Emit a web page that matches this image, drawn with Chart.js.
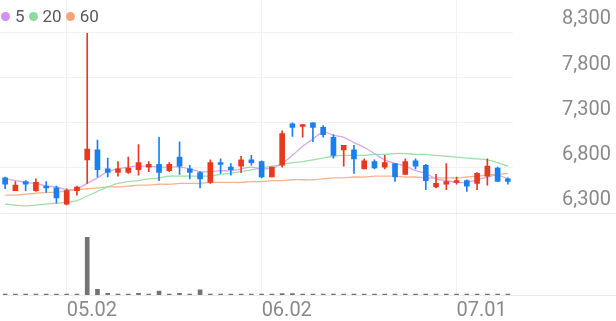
<!DOCTYPE html>
<html>
<head>
<meta charset="utf-8">
<script src="https://cdn.jsdelivr.net/npm/chart.js@4.4.1/dist/chart.umd.min.js"></script>
<style>
  html, body { margin: 0; padding: 0; background: #fff; }
  #wrap { position: relative; width: 616px; height: 321px; }
  #legend {
    position: absolute; left: 1px; top: 6px;
    display: flex; align-items: center;
    font: 17px Roboto, sans-serif; color: #5a5a5a;
  }
  #legend .item { display: flex; align-items: center; margin-right: 4px; }
  #legend .dot { width: 9px; height: 9px; border-radius: 50%; margin-right: 5px; }
</style>
</head>
<body>
<div id="wrap">
  <canvas id="chart" width="616" height="321"></canvas>
  <div id="legend"></div>
</div>
<script>
// daily candles, left to right
const openP  = [6690, 6550, 6650, 6550, 6600, 6580, 6400, 6550, 6890, 7000,
                6790, 6750, 6750, 6780, 6810, 6840, 6770, 6920, 6790, 6750,
                6640, 6860, 6810, 6820, 6890, 6870, 6700, 6830, 7290, 7260,
                7300, 7250, 7140, 7000, 7000, 6790, 6870, 6810, 6850, 6730,
                6880, 6830, 6590, 6620, 6640, 6660, 6630, 6710, 6800, 6680];
const highP  = [6700, 6650, 6660, 6680, 6650, 6600, 6570, 6600, 8290, 7110,
                6910, 6870, 6920, 7060, 6870, 7140, 6860, 7090, 6830, 6760,
                6890, 6900, 6850, 6930, 6940, 6880, 6810, 7210, 7300, 7280,
                7300, 7270, 7170, 7050, 7050, 6900, 6890, 6940, 6850, 6900,
                6900, 6840, 6730, 6850, 6700, 6670, 6750, 6900, 6810, 6690];
const lowP   = [6570, 6550, 6550, 6540, 6530, 6410, 6390, 6500, 6630, 6700,
                6700, 6710, 6740, 6720, 6760, 6660, 6760, 6730, 6680, 6580,
                6630, 6740, 6720, 6750, 6830, 6690, 6700, 6810, 7150, 7140,
                7090, 7140, 6910, 6820, 6740, 6790, 6790, 6790, 6650, 6730,
                6790, 6560, 6580, 6560, 6620, 6540, 6560, 6610, 6650, 6620];
const closeP = [6620, 6610, 6620, 6640, 6580, 6470, 6550, 6590, 7010, 6780,
                6750, 6790, 6800, 6860, 6840, 6750, 6840, 6820, 6750, 6680,
                6860, 6840, 6780, 6890, 6860, 6700, 6810, 7180, 7250, 7280,
                7250, 7170, 6940, 7050, 6900, 6880, 6800, 6860, 6700, 6870,
                6820, 6660, 6630, 6650, 6660, 6600, 6740, 6820, 6650, 6650];

// moving averages as drawn
const ma5  = [6680, 6660, 6640, 6630, 6600, 6590, 6560, 6570, 6630, 6690,
              6760, 6790, 6810, 6820, 6820, 6810, 6810, 6810, 6790, 6760,
              6760, 6770, 6770, 6790, 6810, 6790, 6800, 6850, 6940, 7040,
              7120, 7200, 7160, 7140, 7080, 7030, 6960, 6890, 6850, 6820,
              6770, 6740, 6680, 6660, 6640, 6640, 6670, 6700, 6720, 6680];
const ma20 = [6400, 6390, 6380, 6390, 6400, 6410, 6420, 6440, 6490, 6540,
              6590, 6630, 6650, 6660, 6680, 6690, 6710, 6710, 6710, 6710,
              6710, 6730, 6740, 6760, 6780, 6800, 6820, 6840, 6860, 6870,
              6890, 6910, 6930, 6940, 6940, 6940, 6950, 6950, 6960, 6960,
              6950, 6950, 6940, 6930, 6920, 6910, 6900, 6890, 6860, 6820];
const ma60 = [6500, 6500, 6510, 6520, 6530, 6530, 6550, 6560, 6570, 6580,
              6590, 6590, 6600, 6610, 6610, 6620, 6620, 6630, 6630, 6630,
              6640, 6640, 6640, 6640, 6650, 6650, 6660, 6660, 6670, 6670,
              6670, 6680, 6690, 6690, 6700, 6700, 6710, 6710, 6710, 6700,
              6700, 6690, 6690, 6690, 6690, 6700, 6710, 6720, 6730, 6740];

// volume, relative
const volume = [1.5, 1.5, 1.5, 1.5, 1.5, 1.5, 1.5, 1.5, 100, 10,
                3, 1.5, 1.5, 3, 1.5, 7, 1.5, 3, 1.5, 9,
                1.5, 1.5, 1.5, 1.5, 1.5, 1.5, 1.5, 2.5, 2.5, 1.5,
                1.5, 1.5, 1.5, 1.5, 1.5, 1.5, 1.5, 1.5, 1.5, 1.5,
                1.5, 1.5, 1.5, 1.5, 1.5, 1.5, 1.5, 1.5, 1.5, 1.5];

const xTickIdx  = [6, 25, 44];
const xTickText = ["05.02", "06.02", "07.01"];
const priceTicks = [6300, 6800, 7300, 7800, 8300];

const UP = "#e8391f";
const DOWN = "#1a80f0";
const GRID = "#f2f2f2";

const maSeries = [
  { label: "5", data: ma5, line: "#dba6f0", dot: "#d291ee" },
  { label: "20", data: ma20, line: "#9edfaa", dot: "#8ed99c" },
  { label: "60", data: ma60, line: "#f9b290", dot: "#f8a37a" },
];

const days = openP.map((_, i) => i);
const candleColor = openP.map((o, i) => (closeP[i] >= o ? UP : DOWN));

// full width lines under the price panel and under the volume bars
const baseLines = {
  id: "baseLines",
  beforeDatasetsDraw(chart) {
    const { ctx, chartArea, width } = chart;
    const yLow = Math.round(chart.scales.y.getPixelForValue(priceTicks[0])) + 0.5;
    const yBase = Math.round(chartArea.bottom) + 0.5;
    ctx.save();
    ctx.strokeStyle = "#ebebeb";
    ctx.lineWidth = 1;
    [yLow, yBase].forEach((y) => {
      ctx.beginPath();
      ctx.moveTo(3, y);
      ctx.lineTo(width, y);
      ctx.stroke();
    });
    ctx.restore();
  },
};

new Chart(document.getElementById("chart"), {
  data: {
    labels: days,
    datasets: [
      {
        type: "bar",
        data: days.map((i) => [openP[i], closeP[i]]),
        backgroundColor: candleColor,
        barThickness: 5,
        minBarLength: 1,
        grouped: false,
        yAxisID: "y",
        order: 1,
      },
      {
        type: "bar",
        data: days.map((i) => [lowP[i], highP[i]]),
        backgroundColor: candleColor,
        barThickness: 1,
        grouped: false,
        yAxisID: "y",
        order: 2,
      },
      ...maSeries.map((m) => ({
        type: "line",
        label: m.label,
        data: m.data,
        borderColor: m.line,
        borderWidth: 1.3,
        pointRadius: 0,
        tension: 0.3,
        yAxisID: "y",
        order: 3,
      })),
      {
        type: "bar",
        data: volume,
        backgroundColor: "#737373",
        barThickness: 4,
        grouped: false,
        yAxisID: "yv",
        order: 4,
      },
    ],
  },
  options: {
    responsive: false,
    animation: false,
    events: [],
    layout: { padding: 0 },
    plugins: { legend: { display: false }, tooltip: { enabled: false } },
    scales: {
      x: {
        type: "category",
        offset: true,
        border: { display: false },
        grid: {
          drawTicks: false,
          offset: false,
          color: (c) => (xTickIdx.includes(c.index) ? GRID : "transparent"),
        },
        ticks: {
          autoSkip: false,
          maxRotation: 0,
          align: "start",
          padding: 4,
          color: "#8a8a8a",
          font: { family: "Roboto", size: 20 },
          callback: (v, i) => {
            const k = xTickIdx.indexOf(i);
            return k >= 0 ? xTickText[k] : "";
          },
        },
        afterFit: (s) => { s.height = 26; },
      },
      y: {
        position: "right",
        min: 5394,
        max: 8654,
        border: { display: false },
        grid: { color: GRID, drawTicks: true, tickLength: 49, tickColor: "transparent" },
        afterBuildTicks: (s) => { s.ticks = priceTicks.map((v) => ({ value: v })); },
        ticks: {
          padding: 0,
          labelOffset: -13,
          color: "#8a8a8a",
          font: { family: "Roboto", size: 20, lineHeight: 0.05 },
          callback: (v) => v.toLocaleString("en-US"),
        },
        afterFit: (s) => { s.width = 103; },
      },
      yv: {
        display: false,
        min: 0,
        max: 510,
      },
    },
  },
  plugins: [baseLines],
});

const legend = document.getElementById("legend");
legend.innerHTML = maSeries
  .map((m) => `<span class="item"><span class="dot" style="background:${m.dot}"></span>${m.label}</span>`)
  .join("");
</script>
</body>
</html>
